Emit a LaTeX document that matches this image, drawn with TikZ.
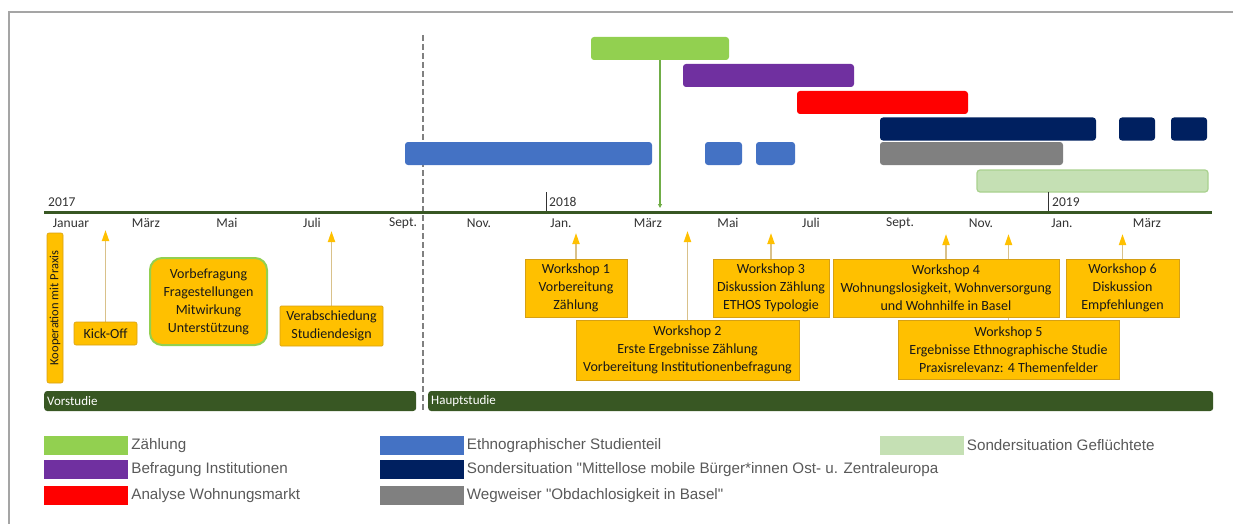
\documentclass[tikz,border=0pt]{standalone}
\usepackage{fontspec}
\setmainfont{Carlito}
\newfontfamily\legendfont{Liberation Sans}
\usetikzlibrary{arrows.meta,positioning,backgrounds}
\definecolor{zaehlcol}   {RGB}{146,208,80}
\definecolor{befragcol}  {RGB}{112,48,160}
\definecolor{marktcol}   {RGB}{255,0,0}
\definecolor{ethnocol}   {RGB}{68,114,196}
\definecolor{mobilcol}   {RGB}{0,32,96}
\definecolor{wegcol}     {RGB}{128,128,128}
\definecolor{fluechtcol} {RGB}{197,224,180}
\definecolor{fluechtrand}{RGB}{169,209,142}
\definecolor{wscol}      {RGB}{255,192,0}
\definecolor{wsrand}     {RGB}{214,160,20}
\definecolor{phasecol}   {RGB}{56,87,35}
\definecolor{pfeilcol}   {RGB}{217,193,138}
\definecolor{linkcol}    {RGB}{112,173,71}
\definecolor{textgrau}   {RGB}{50,50,50}
\definecolor{legendgrau} {RGB}{89,89,89}
\definecolor{rahmencol}  {RGB}{165,165,165}

\tikzset{
  bar/.style={rounded corners=3pt, minimum height=23pt, inner sep=0pt},
  wsbox/.style={fill=wscol, draw=wsrand, line width=0.6pt, align=center,
    inner sep=0pt, text=black!90, font=\fontsize{14}{18}\selectfont},
  wsarrow/.style={draw=pfeilcol, line width=1.8pt,
    -{Triangle[length=11pt, width=7pt, color=wscol]}},
  month/.style={font=\fontsize{13.5}{15}\selectfont, text=textgrau, inner sep=0pt},
  phase/.style={fill=phasecol, rounded corners=3pt, minimum height=20pt,
    inner xsep=3pt, inner ysep=0pt, text=white, align=left, anchor=west,
    font=\fontsize{13}{15}\selectfont},
  swatch/.style={minimum width=84pt, minimum height=19pt, inner sep=0pt},
  legendtext/.style={font=\legendfont\fontsize{15.2}{17}\selectfont,
    text=legendgrau, inner sep=0pt}
}

\begin{document}
\begin{tikzpicture}[x=1pt, y=-1pt]

\useasboundingbox (0,0) rectangle (1233,524);

% Frame, left and top edge only
\draw[rahmencol, line width=1.5pt] (9,524) -- (9,12) -- (1233,12);

% Divider between Vorstudie and Hauptstudie
\draw[wegcol, line width=1.5pt, dash pattern=on 6pt off 3pt] (423,35) -- (423,411);

% ================================================================
% GANTT BARS --- top
% ================================================================
\node[bar, fill=zaehlcol,  minimum width=138pt] (zaehlung)  at (660,48.5)  {};
\node[bar, fill=befragcol, minimum width=171pt] (befragung) at (768.5,75.5) {};
\node[bar, fill=marktcol,  minimum width=171pt] (markt)     at (882.5,102.5) {};

\node[bar, fill=mobilcol, minimum width=216pt] (mobilA) at (988,129)  {};
\node[bar, fill=mobilcol, minimum width=36pt]  (mobilB) at (1137,129) {};
\node[bar, fill=mobilcol, minimum width=36pt]  (mobilC) at (1189,129) {};

\node[bar, fill=ethnocol, minimum width=247pt] (ethnoA) at (528.5,153.5) {};
\node[bar, fill=ethnocol, minimum width=37pt]  (ethnoB) at (723.5,153.5) {};
\node[bar, fill=ethnocol, minimum width=39pt]  (ethnoC) at (775.5,153.5) {};

\node[bar, fill=wegcol, minimum width=183pt] (wegweiser) at (971.5,153.5) {};

\node[bar, fill=fluechtcol, draw=fluechtrand, line width=1.2pt,
      minimum width=231pt, minimum height=22pt] (fluecht) at (1092.5,181) {};

% ================================================================
% TIME AXIS
% ================================================================
\draw[phasecol, line width=3pt] (44,212) -- (1212,212);

\node[month, anchor=west] (j2017) at (48,202)   {2017};
\node[month, anchor=west] (j2018) at (549,202)  {2018};
\node[month, anchor=west] (j2019) at (1052,202) {2019};
\draw[textgrau, line width=0.6pt] (546,192)  -- (546,211);
\draw[textgrau, line width=0.6pt] (1048,192) -- (1048,211);

\foreach \x/\m in {71/Januar, 146/März, 227/Mai, 312/Juli, 403/Sept.,
                   479/Nov., 561/Jan., 648/März, 728/Mai, 811/Juli,
                   900/Sept., 981/Nov., 1062/Jan., 1147/März}
  \node[month] (m\x) at (\x,223) {\m};

% Zählung reaches the axis
\coordinate (zaehlziel) at (660,208);
\draw[linkcol, line width=2pt, -{Triangle[length=4pt, width=4pt]}]
    (zaehlung.south) -- (zaehlziel);

% ================================================================
% VORSTUDIE --- left
% ================================================================
\node[wsbox, rotate=90, rounded corners=2pt, minimum width=150pt,
      minimum height=16pt, font=\fontsize{12.5}{14}\selectfont]
    (koop) at (55,308) {Kooperation mit Praxis};

\node[wsbox, rounded corners=2pt, minimum width=63pt, minimum height=23pt]
    (kickoff) at (105.5,333.5) {Kick-Off};

\node[wsbox, draw=zaehlcol, line width=2pt, rounded corners=12pt,
      minimum width=117pt, minimum height=87pt]
    (vorbefragung) at (208.5,301.5)
    {Vorbefragung\\Fragestellungen\\Mitwirkung\\Unterstützung};

\node[wsbox, rounded corners=1pt, minimum width=103pt, minimum height=40pt]
    (verabschiedung) at (331.5,326) {Verabschiedung\\Studiendesign};

% ================================================================
% HAUPTSTUDIE --- workshops
% ================================================================
\node[wsbox, minimum width=102pt, minimum height=58pt] (ws1) at (576,288)
    {Workshop 1\\Vorbereitung\\Zählung};
\node[wsbox, minimum width=223pt, minimum height=60pt] (ws2) at (687.5,350)
    {Workshop 2\\Erste Ergebnisse Zählung\\Vorbereitung Institutionenbefragung};
\node[wsbox, minimum width=116pt, minimum height=58pt] (ws3) at (771,288)
    {Workshop 3\\Diskussion Zählung\\ETHOS Typologie};
\node[wsbox, minimum width=226pt, minimum height=58pt] (ws4) at (946,288)
    {Workshop 4\\Wohnungslosigkeit, Wohnversorgung\\und Wohnhilfe in Basel};
\node[wsbox, minimum width=221pt, minimum height=59pt] (ws5) at (1008.5,349.5)
    {Workshop 5\\Ergebnisse Ethnographische Studie\\Praxisrelevanz: 4 Themenfelder};
\node[wsbox, minimum width=113pt, minimum height=58pt] (ws6) at (1122.5,288)
    {Workshop 6\\Diskussion\\Empfehlungen};

% Arrows up to the axis, behind the boxes
\coordinate (kickoffziel) at (105.5,230);
\coordinate (verabziel)   at (331.5,231);
\coordinate (ws1ziel)     at (576,233);
\coordinate (ws2ziel)     at (687.5,231);
\coordinate (ws3ziel)     at (771,233);
\coordinate (ws4ziel)     at (946,234);
\coordinate (ws5ziel)     at (1008.5,234);
\coordinate (ws6ziel)     at (1122.5,234);

\begin{scope}[on background layer]
\draw[wsarrow] (kickoff.north)        -- (kickoffziel);
\draw[wsarrow] (verabschiedung.north) -- (verabziel);
\draw[wsarrow] (ws1.north) -- (ws1ziel);
\draw[wsarrow] (ws2.north) -- (ws2ziel);
\draw[wsarrow] (ws3.north) -- (ws3ziel);
\draw[wsarrow] (ws4.north) -- (ws4ziel);
\draw[wsarrow] (ws5.north) -- (ws5ziel);
\draw[wsarrow] (ws6.north) -- (ws6ziel);
\end{scope}

% ================================================================
% PHASES
% ================================================================
\node[phase, text width=366pt] (vorstudie)   at (44,401)  {Vorstudie};
\node[phase, text width=779pt] (hauptstudie) at (428,401) {Hauptstudie};

% ================================================================
% LEGEND
% ================================================================
\node[swatch, fill=zaehlcol]  (lgzaehl)  at (86,445.5) {};
\node[legendtext, right=3pt of lgzaehl]  {Zählung};
\node[swatch, fill=befragcol] (lgbefrag) at (86,469.5) {};
\node[legendtext, right=3pt of lgbefrag] {Befragung Institutionen};
\node[swatch, fill=marktcol]  (lgmarkt)  at (86,495.5) {};
\node[legendtext, right=3pt of lgmarkt]  {Analyse Wohnungsmarkt};

\node[swatch, fill=ethnocol]  (lgethno)  at (421.5,445.5) {};
\node[legendtext, right=3pt of lgethno]  {Ethnographischer Studienteil};
\node[swatch, fill=mobilcol]  (lgmobil)  at (421.5,469.5) {};
\node[legendtext, right=3pt of lgmobil]
    {Sondersituation "Mittellose mobile Bürger*innen Ost- u. Zentraleuropa};
\node[swatch, fill=wegcol]    (lgweg)    at (421.5,495.5) {};
\node[legendtext, right=3pt of lgweg]    {Wegweiser "Obdachlosigkeit in Basel"};

\node[swatch, fill=fluechtcol] (lgfluecht) at (921.5,445.5) {};
\node[legendtext, right=3pt of lgfluecht] {Sondersituation Geflüchtete};

\end{tikzpicture}
\end{document}
